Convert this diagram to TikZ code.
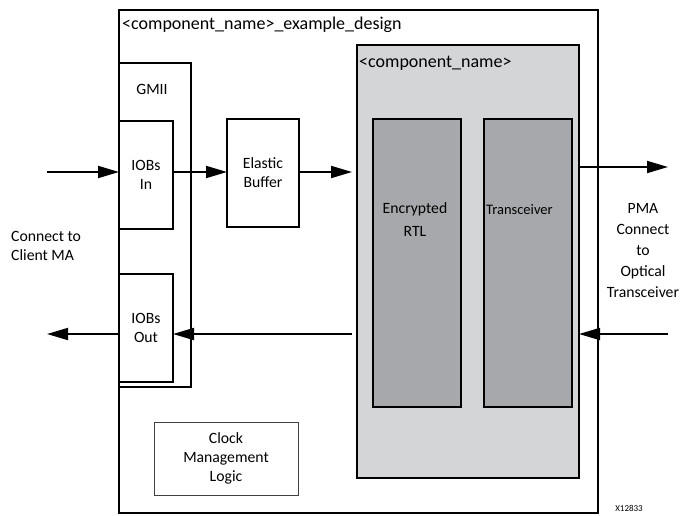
\documentclass[tikz,border=0pt]{standalone}
\usepackage{fontspec}
\setmainfont{Carlito}
\usetikzlibrary{arrows.meta}
\definecolor{compgray}{HTML}{D4D5D7}
\definecolor{innergray}{HTML}{A7A8AB}
\begin{document}
\begin{tikzpicture}[x=1pt,y=1pt,
  box/.style={draw=black, line width=1.8pt, inner sep=0pt, outer sep=0pt, anchor=north west, align=center},
  thinbox/.style={draw=black!75, line width=1pt, inner sep=0pt, outer sep=0pt, anchor=north west, align=center},
  body/.style={font=\fontsize{15.7}{19}\selectfont},
  big/.style={font=\fontsize{18}{21}\selectfont},
  lbl/.style={inner sep=0pt, align=center, body},
  arr/.style={line width=1.8pt, -{Triangle[length=21pt,width=12pt]}}
]
\useasboundingbox (0,0) rectangle (686,-515);
% outer box
\node[box, minimum width=479pt, minimum height=503pt] (outer) at (119,-10) {};
\node[lbl, big, anchor=west] (title) at (122,-25) {<component\_name>\_example\_design};
% GMII
\node[box, minimum width=72pt, minimum height=324pt] (gmii) at (119,-63) {};
\node[lbl] (gmiit) at (152,-89) {GMII};
\node[box, fill=white, minimum width=54pt, minimum height=108pt, body] (iobin) at (119,-121) {IOBs\\In};
\node[box, fill=white, minimum width=54pt, minimum height=108pt, body] (iobout) at (119,-274) {IOBs\\Out};
% Elastic buffer
\node[box, minimum width=72pt, minimum height=108pt, body] (elastic) at (227,-119) {Elastic\\Buffer};
% Clock management
\node[thinbox, minimum width=144pt, minimum height=73pt, body] (clock) at (154,-422) {Clock\\Management\\Logic};
% component
\node[box, fill=compgray, minimum width=222pt, minimum height=433pt] (comp) at (357,-45) {};
\node[lbl, big, anchor=west] (compt) at (359,-63) {<component\_name>};
\node[box, fill=innergray, minimum width=88pt, minimum height=288pt] (rtl) at (373,-119) {};
\node[lbl, font=\fontsize{15.7}{23}\selectfont] (rtlt) at (415,-220) {Encrypted\\RTL};
\node[box, fill=innergray, minimum width=88pt, minimum height=288pt] (xcvr) at (484,-119) {};
\node[lbl, anchor=west, font=\fontsize{14.5}{17}\selectfont] (xcvrt) at (486,-210) {Transceiver};
% side labels
\node[lbl, anchor=west, align=left] (client) at (11,-246) {Connect to\\Client MA};
\node[lbl, font=\fontsize{15.7}{21}\selectfont] (pma) at (643,-251) {PMA\\Connect\\to\\Optical\\Transceiver};
\node[inner sep=0pt, font=\fontsize{9}{10}\selectfont] (xid) at (629,-508) {X12833};
% connector ends
\coordinate (inL) at (47,-172);
\coordinate (outL) at (47,-334);
\coordinate (outR) at (668,-167);
\coordinate (inR) at (668,-334);
% arrows
\draw[arr] (inL) -- (inL -| iobin.west);
\draw[arr] (iobin.east |- inL) -- (inL -| elastic.west);
\draw[arr, shorten >=5pt] (elastic.east |- inL) -- (inL -| comp.west);
\draw[arr] (comp.east |- outR) -- (outR);
\draw[arr] (inR) -- (inR -| comp.east);
\draw[arr, shorten <=5pt] (inR -| comp.west) -- (inR -| iobout.east);
\draw[arr] (iobout.west |- outL) -- (outL);
\end{tikzpicture}
\end{document}
